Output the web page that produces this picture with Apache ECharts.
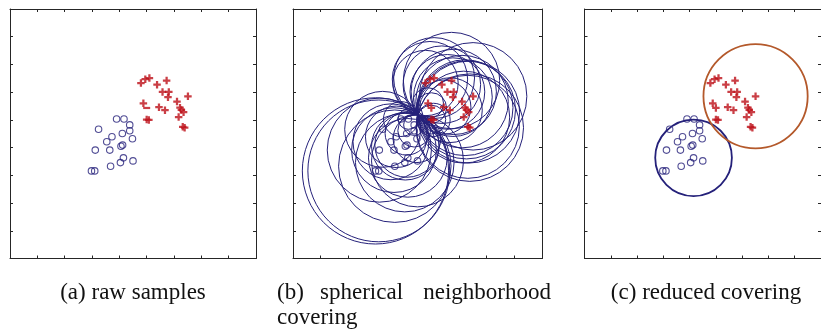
<!DOCTYPE html>
<html>
<head>
<meta charset="utf-8">
<script src="https://cdn.jsdelivr.net/npm/echarts@6/dist/echarts.min.js"></script>
<style>html,body{margin:0;padding:0;background:#fff;}#c{width:821px;height:332px;}</style>
</head>
<body>
<div id="c"></div>
<script>
// ---- data (axis units 0..9) ----
const blueX = [3.24,3.90,4.17,4.38,4.38,4.11,3.73,3.54,4.48,4.06,4.12,3.12,3.65,4.15,4.04,4.50,3.68,2.98,3.10];
const blueY = [4.66,5.03,5.03,4.82,4.61,4.51,4.39,4.21,4.32,4.05,4.09,3.91,3.91,3.63,3.46,3.52,3.33,3.16,3.16];
const redX  = [4.79,4.95,5.10,5.38,5.73,5.58,5.81,5.78,6.51,4.88,5.00,5.45,5.67,6.11,6.22,6.27,6.35,6.17,5.00,5.08,6.32,6.39];
const redY  = [6.33,6.47,6.51,6.27,6.42,6.01,6.01,5.82,5.85,5.60,5.43,5.46,5.35,5.66,5.44,5.36,5.28,5.10,5.01,5.00,4.75,4.72];
// neighbourhood radii of panel (b), one per sample
const blueRadius = [1.37,0.63,0.37,0.38,0.59,0.78,1.11,1.37,0.86,1.22,1.16,1.88,1.53,1.42,1.78,1.66,2.03,2.64,2.56];
const redRadius  = [1.18,1.36,1.46,1.40,1.74,1.35,1.54,1.42,1.94,0.56,0.55,0.98,1.17,1.67,1.73,1.77,1.84,1.66,0.52,0.60,1.86,1.94];
// reduced covering of panel (c)
const coverX = [4.15, 6.51];
const coverY = [3.63, 5.85];
const coverR = [1.42, 1.93];
const axisTicks = [0,1,2,3,4,5,6,7,8,9];
const captions = ['(a) raw samples', '(b)', 'spherical', 'neighborhood', 'covering', '(c) reduced covering'];

// ---- styles ----
const NAVY = '#25217a';
const RED = '#bd0f18';
const ORANGE = '#b4592b';
const AX = '#262626';
const coverColors = [NAVY, ORANGE];
const PLUS = 'path://M3.5,0H6.5V3.5H10V6.5H6.5V10H3.5V6.5H0V3.5H3.5Z';
const DASH = 'path://M0,0H10V3H0Z';

const grids = [
  {left: 10, top: 9, width: 246, height: 249.5},
  {left: 293, top: 9, width: 249, height: 249.5},
  {left: 584.5, top: 9, width: 250, height: 249.5}
];

function axis(gi, pos) {
  return {
    gridIndex: gi, type: 'value', position: pos,
    min: axisTicks[0], max: axisTicks[axisTicks.length - 1], interval: 1,
    axisLine: {show: true, onZero: false, lineStyle: {color: AX, width: 1}},
    axisTick: {show: true, inside: true, length: 3, lineStyle: {color: AX, width: 1}},
    axisLabel: {show: false}, splitLine: {show: false}
  };
}
const xAxes = [], yAxes = [];
grids.forEach((g, i) => {
  xAxes.push(axis(i, 'bottom'), axis(i, 'top'));
  yAxes.push(axis(i, 'left'), axis(i, 'right'));
});

const bluePts = blueX.map((x, i) => [x, blueY[i]]);
const redPts = redX.map((x, i) => [x, redY[i]]);

function blueScatter(gi) {
  return {
    type: 'scatter', xAxisIndex: 2 * gi, yAxisIndex: 2 * gi, z: 5,
    symbol: 'circle', symbolSize: 6.5, data: bluePts, silent: true,
    itemStyle: {color: 'rgba(0,0,0,0)', borderColor: NAVY, borderWidth: 1.1}
  };
}
function redScatter(gi, dashIndex) {
  return {
    type: 'scatter', xAxisIndex: 2 * gi, yAxisIndex: 2 * gi, z: 6,
    symbol: PLUS, symbolSize: 7.5, silent: true,
    data: redPts.map((p, i) => i === dashIndex ? {value: p, symbol: DASH, symbolSize: [7, 2.2]} : p),
    itemStyle: {color: RED}
  };
}
function circleSeries(gi, data, colorOf, lw) {
  return {
    type: 'custom', xAxisIndex: 2 * gi, yAxisIndex: 2 * gi, z: 3, clip: true, silent: true,
    dimensions: ['x', 'y', 'r'], encode: {x: 0, y: 1},
    data: data,
    renderItem: function (params, api) {
      const c = api.coord([api.value(0), api.value(1)]);
      const s = api.size([api.value(2), api.value(2)]);
      return {
        type: 'circle',
        shape: {cx: c[0], cy: c[1], r: (s[0] + s[1]) / 2},
        style: {fill: 'none', stroke: colorOf(params.dataIndex), lineWidth: lw}
      };
    }
  };
}

const bCircles = bluePts.map((p, i) => [p[0], p[1], blueRadius[i]])
  .concat(redPts.map((p, i) => [p[0], p[1], redRadius[i]]));
const cCircles = coverX.map((x, i) => [x, coverY[i], coverR[i]]);

const FONT = 'Liberation Serif';
function cap(text, x, y, align) {
  return {
    type: 'text', x: x, y: y, silent: true,
    style: {text: text, fontFamily: FONT, fontSize: 23, fill: '#111',
      textAlign: align, textVerticalAlign: 'middle', align: align, verticalAlign: 'middle'}
  };
}

const chart = echarts.init(document.getElementById('c'), null, {renderer: 'canvas'});
chart.setOption({
  animation: false,
  backgroundColor: '#fff',
  grid: grids,
  xAxis: xAxes,
  yAxis: yAxes,
  series: [
    blueScatter(0), redScatter(0, 10),
    circleSeries(1, bCircles, () => NAVY, 1),
    blueScatter(1), redScatter(1, -1),
    circleSeries(2, cCircles, (i) => coverColors[i], 1.8),
    blueScatter(2), redScatter(2, -1)
  ],
  graphic: [
    cap(captions[0], 133, 293, 'center'),
    cap(captions[1], 277, 293, 'left'),
    cap(captions[2], 320, 293, 'left'),
    cap(captions[3], 551, 293, 'right'),
    cap(captions[4], 277, 318, 'left'),
    cap(captions[5], 706, 293, 'center')
  ]
});
</script>
</body>
</html>
